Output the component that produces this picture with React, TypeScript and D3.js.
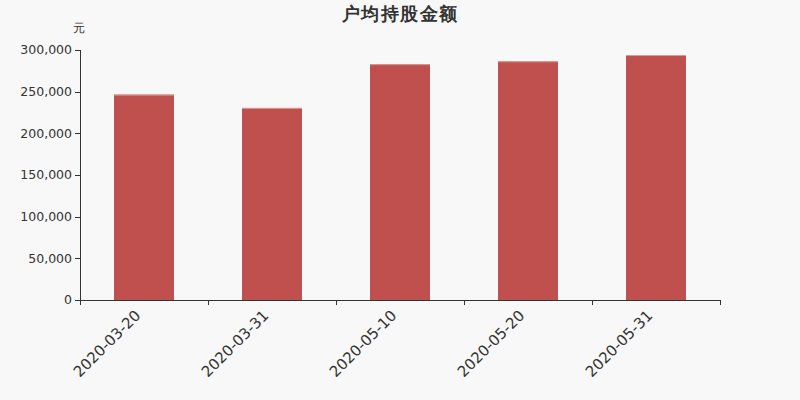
import React from "react";
import * as d3 from "d3";

const categories = ["2020-03-20", "2020-03-31", "2020-05-10", "2020-05-20", "2020-05-31"];
const values = [246500, 230500, 283000, 286500, 294000];
const yTicks = [0, 50000, 100000, 150000, 200000, 250000, 300000];

const W = 800, H = 400;
const left = 80, right = 720, top = 50, bottom = 300;
const FONT = "'DejaVu Sans', Verdana, sans-serif";

export default function App() {
  const x = d3.scaleBand<string>().domain(categories).range([left, right]).paddingInner(0).paddingOuter(0);
  const y = d3.scaleLinear().domain([0, 300000]).range([bottom, top]);
  const bw = 60;
  const fmt = d3.format(",");
  return (
    <svg width={W} height={H} style={{ position: "absolute", left: 0, top: 0, background: "#f8f8f8" }} fontFamily={FONT}>
      <rect x={0} y={0} width={W} height={H} fill="#f8f8f8" />
      <text x={400} y={20} textAnchor="middle" fontSize={18} fontWeight="bold" letterSpacing={1.5} fill="#333">户均持股金额</text>
      <text x={79} y={32} textAnchor="middle" fontSize={12} fill="#333">元</text>
      {values.map((v, i) => {
        const cx = (x(categories[i]) as number) + x.bandwidth() / 2;
        return (
          <g key={i}>
            <rect x={cx - bw / 2} y={y(v)} width={bw} height={bottom - y(v)} fill="#c0504d" />
            <rect x={cx - bw / 2} y={y(v)} width={bw} height={1} fill="#d89a98" />
          </g>
        );
      })}
      <line x1={left + 0.5} x2={left + 0.5} y1={top} y2={bottom} stroke="#333" />
      {yTicks.map((t) => (
        <g key={t}>
          <line x1={left - 5} x2={left} y1={Math.round(y(t)) + 0.5} y2={Math.round(y(t)) + 0.5} stroke="#333" />
          <text x={left - 8} y={y(t)} dy="0.35em" textAnchor="end" fontSize={12.5} fill="#333">{fmt(t)}</text>
        </g>
      ))}
      <line x1={left} x2={right} y1={bottom + 0.5} y2={bottom + 0.5} stroke="#333" />
      {d3.range(categories.length + 1).map((i) => {
        const tx = Math.round(left + i * x.step()) + 0.5;
        return <line key={i} x1={tx} x2={tx} y1={bottom} y2={bottom + 5} stroke="#333" />;
      })}
      {categories.map((c) => {
        const cx = (x(c) as number) + x.bandwidth() / 2;
        return (
          <text key={c} transform={`translate(${cx - 10},${bottom + 9}) rotate(-45)`} textAnchor="end" dy="0.7em" fontSize={15} fill="#333">{c}</text>
        );
      })}
    </svg>
  );
}
